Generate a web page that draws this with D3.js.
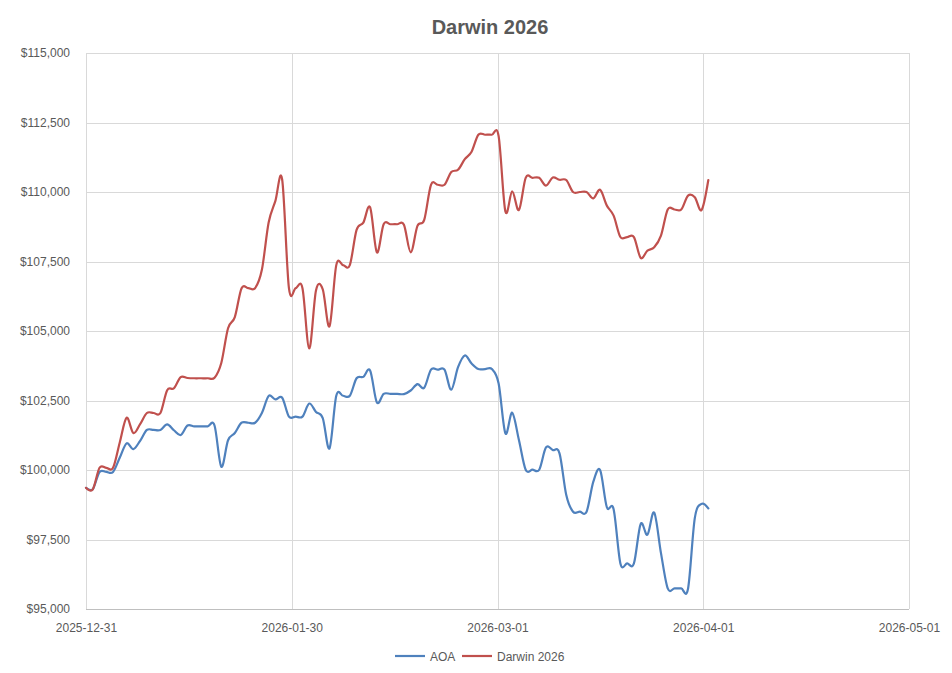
<!DOCTYPE html>
<html>
<head>
<meta charset="utf-8">
<script src="https://cdn.jsdelivr.net/npm/d3@7"></script>
<style>
  html, body { margin: 0; padding: 0; background: #ffffff; }
  svg { display: block; }
  text { font-family: "Liberation Sans", Arial, sans-serif; fill: #595959; }
</style>
</head>
<body>
<svg id="chart" width="952" height="673"></svg>
<script>
// ---- data ----
const title = "Darwin 2026";
const startDate = "2025-12-31";
const endDate = "2026-04-02";
const seriesNames = ["AOA", "Darwin 2026"];
const seriesColors = ["#4f81bd", "#c0504d"];

const aoaValues = [
  99360, 99310, 99930, 99930, 99930, 100450, 100960, 100750, 101050, 101440,
  101440, 101440, 101640, 101430, 101260, 101600, 101570, 101570, 101570, 101600,
  100120, 101070, 101330, 101700, 101700, 101700, 102050, 102660, 102540, 102600,
  101920, 101920, 101920, 102390, 102090, 101870, 100780, 102670, 102670, 102670,
  103300, 103350, 103580, 102430, 102740, 102740, 102740, 102730, 102860, 103090,
  102960, 103610, 103610, 103610, 102890, 103700, 104120, 103830, 103630, 103630,
  103630, 103110, 101320, 102060, 101080, 100010, 100010, 100010, 100810, 100720,
  100600, 99100, 98500, 98500, 98500, 99580, 100000, 98660, 98590, 96640,
  96640, 96640, 98060, 97670, 98470, 97010, 95740, 95740, 95740, 95730,
  98270, 98780, 98620
];

const darwinValues = [
  99360, 99300, 100080, 100080, 100080, 101000, 101880, 101330, 101650, 102050,
  102050, 102050, 102870, 102940, 103340, 103310, 103300, 103300, 103300, 103320,
  103850, 105100, 105500, 106540, 106540, 106540, 107200, 108900, 109680, 110450,
  106540, 106540, 106540, 104370, 106460, 106500, 105170, 107370, 107370, 107370,
  108640, 108900, 109450, 107830, 108840, 108840, 108840, 108820, 107830, 108780,
  109000, 110260, 110260, 110260, 110720, 110800, 111180, 111450, 112060, 112060,
  112060, 112010, 109300, 110020, 109350, 110510, 110510, 110510, 110230, 110520,
  110440, 110430, 110000, 110000, 110000, 109770, 110080, 109510, 109150, 108380,
  108380, 108380, 107630, 107890, 108010, 108430, 109370, 109370, 109370, 109870,
  109810, 109350, 110430
];

const xTickLabels = ["2025-12-31", "2026-01-30", "2026-03-01", "2026-04-01", "2026-05-01"];
const yTicks = [95000, 97500, 100000, 102500, 105000, 107500, 110000, 112500, 115000];

// ---- layout ----
const svg = d3.select("#chart");
const plotL = 86, plotR = 909, plotT = 53, plotB = 609;

const parse = d3.utcParse("%Y-%m-%d");
const t0 = parse(startDate);
const dates = d3.utcDay.range(t0, d3.utcDay.offset(parse(endDate), 1));
const tickStepMs = (365 / 12) * 86400000;
const xTickValues = xTickLabels.map((_, i) => new Date(t0.getTime() + i * tickStepMs));

const x = d3.scaleUtc()
  .domain([t0, xTickValues[xTickValues.length - 1]])
  .range([plotL, plotR]);
const y = d3.scaleLinear().domain([95000, 115000]).range([plotB, plotT]);

// gridlines
svg.append("g").selectAll("line")
  .data(yTicks).join("line")
  .attr("x1", plotL).attr("x2", plotR)
  .attr("y1", d => Math.round(y(d)) + 0.5).attr("y2", d => Math.round(y(d)) + 0.5)
  .attr("stroke", d => d === 95000 ? "#bfbfbf" : "#d9d9d9").attr("stroke-width", 1);

svg.append("g").selectAll("line")
  .data(xTickValues).join("line")
  .attr("x1", d => Math.round(x(d)) + 0.5).attr("x2", d => Math.round(x(d)) + 0.5)
  .attr("y1", plotT).attr("y2", plotB)
  .attr("stroke", "#d9d9d9").attr("stroke-width", 1);

// y axis labels
const yAxis = d3.axisLeft(y).tickValues(yTicks)
  .tickFormat(d => "$" + d3.format(",")(d)).tickSize(0).tickPadding(16);
const gy = svg.append("g").attr("transform", `translate(${plotL},0)`).call(yAxis);
gy.select(".domain").remove();
gy.selectAll("text").style("font-size", "12px").attr("fill", "#595959")
  .style("font-family", "'Liberation Sans', Arial, sans-serif");

// x axis labels
const xAxis = d3.axisBottom(x).tickValues(xTickValues)
  .tickFormat((d, i) => xTickLabels[i]).tickSize(0).tickPadding(14);
const gx = svg.append("g").attr("transform", `translate(0,${plotB})`).call(xAxis);
gx.select(".domain").remove();
gx.selectAll("text").style("font-size", "12px").attr("fill", "#595959")
  .style("font-family", "'Liberation Sans', Arial, sans-serif");

// lines
const allSeries = [aoaValues, darwinValues];
const line = d3.line()
  .x((d, i) => x(dates[i]))
  .y(d => y(d))
  .curve(d3.curveCardinal.tension(0));

svg.append("g").selectAll("path")
  .data(allSeries).join("path")
  .attr("d", d => line(d))
  .attr("fill", "none")
  .attr("stroke", (d, i) => seriesColors[i])
  .attr("stroke-width", 2.2)
  .attr("stroke-linejoin", "round")
  .attr("stroke-linecap", "round");

// title
svg.append("text")
  .attr("x", 490).attr("y", 34)
  .attr("text-anchor", "middle")
  .style("font-size", "20px").style("font-weight", "bold")
  .attr("fill", "#595959")
  .text(title);

// legend
const legendX = [395, 462];
const lg = svg.append("g");
seriesNames.forEach((name, i) => {
  lg.append("line")
    .attr("x1", legendX[i]).attr("x2", legendX[i] + 30)
    .attr("y1", 656).attr("y2", 656)
    .attr("stroke", seriesColors[i]).attr("stroke-width", 2.2);
  lg.append("text")
    .attr("x", legendX[i] + 35).attr("y", 660.5)
    .style("font-size", "12px").attr("fill", "#595959")
    .text(name);
});
</script>
</body>
</html>
